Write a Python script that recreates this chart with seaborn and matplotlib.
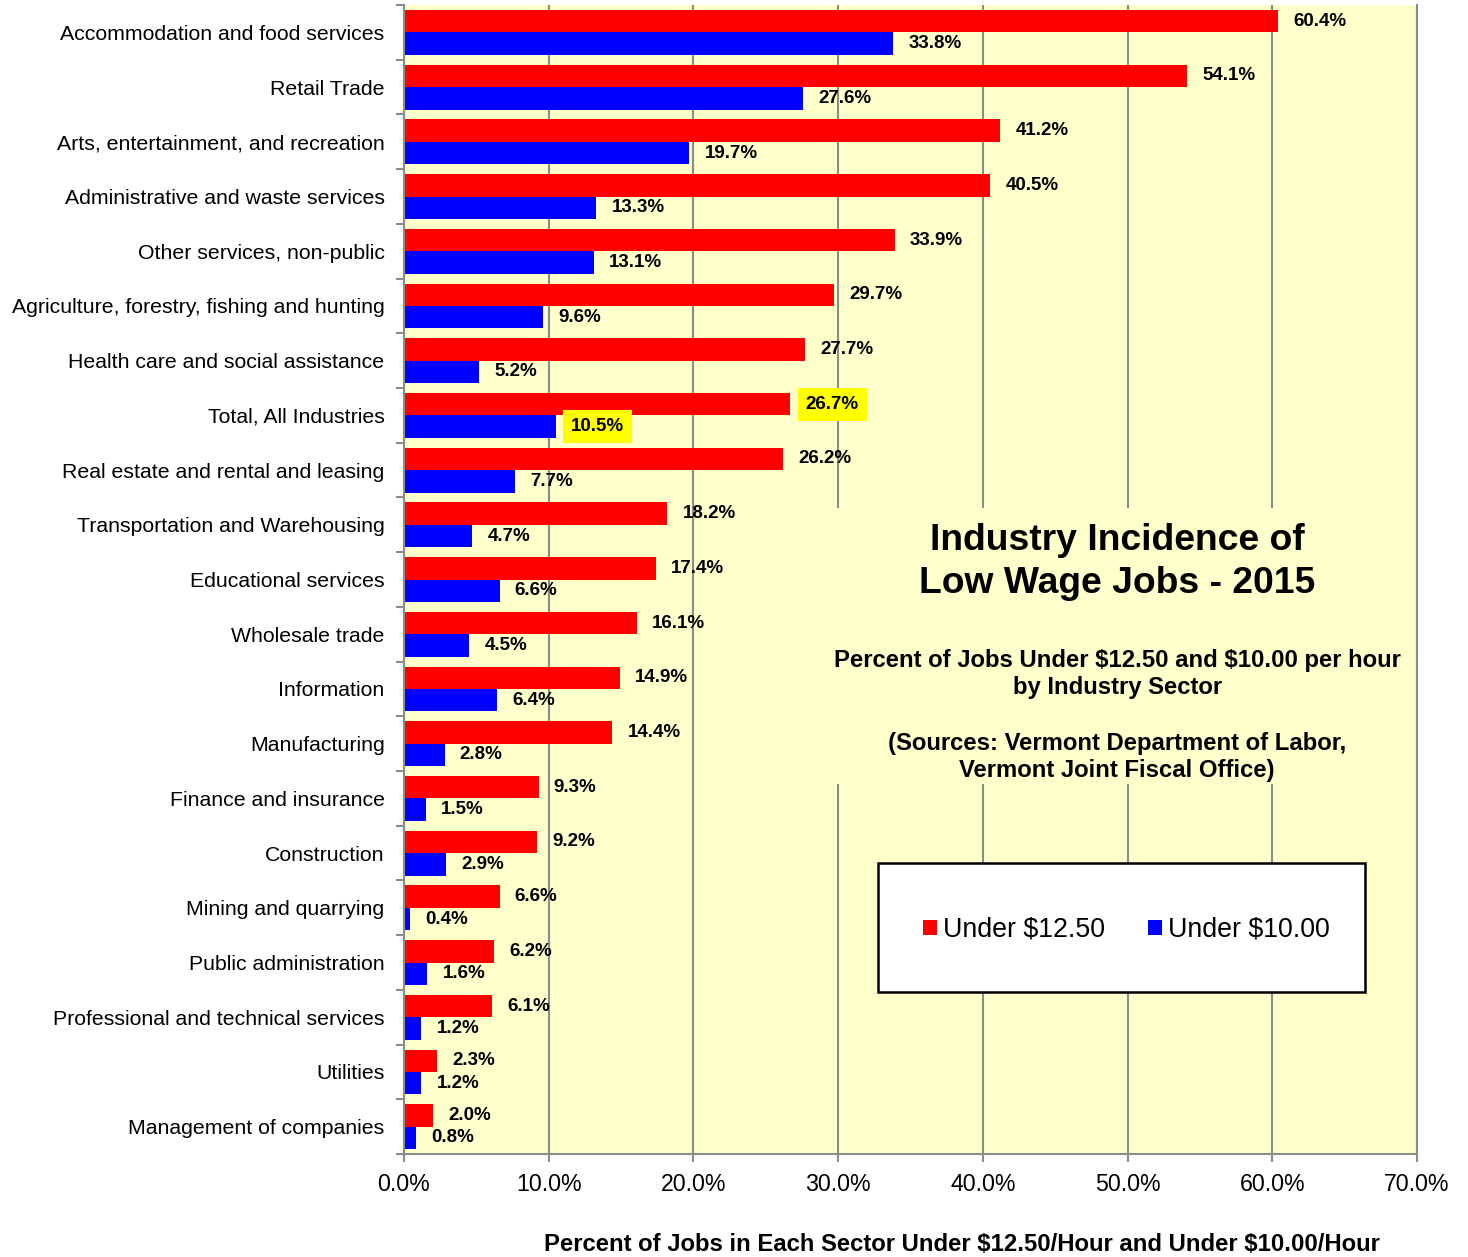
import numpy as np
import pandas as pd
import seaborn as sns
import matplotlib.pyplot as plt
from matplotlib.patches import Patch, Rectangle

# Data
sectors = ["Accommodation and food services", "Retail Trade", "Arts, entertainment, and recreation",
           "Administrative and waste services", "Other services, non-public",
           "Agriculture, forestry, fishing and hunting", "Health care and social assistance",
           "Total, All Industries", "Real estate and rental and leasing", "Transportation and Warehousing",
           "Educational services", "Wholesale trade", "Information", "Manufacturing", "Finance and insurance",
           "Construction", "Mining and quarrying", "Public administration", "Professional and technical services",
           "Utilities", "Management of companies"]
under_1250 = [60.4, 54.1, 41.2, 40.5, 33.9, 29.7, 27.7, 26.7, 26.2, 18.2, 17.4, 16.1, 14.9, 14.4, 9.3, 9.2,
              6.6, 6.2, 6.1, 2.3, 2.0]
under_1000 = [33.8, 27.6, 19.7, 13.3, 13.1, 9.6, 5.2, 10.5, 7.7, 4.7, 6.6, 4.5, 6.4, 2.8, 1.5, 2.9,
              0.4, 1.6, 1.2, 1.2, 0.8]
series = ["Under $12.50", "Under $10.00"]
x_ticks = [0, 10, 20, 30, 40, 50, 60, 70]

df = pd.concat([
    pd.DataFrame({"Sector": sectors, "Series": series[0], "Value": under_1250}),
    pd.DataFrame({"Sector": sectors, "Series": series[1], "Value": under_1000}),
])

# Style
sns.set_style("white")
plt.rcParams['font.family'] = ['Liberation Sans', 'DejaVu Sans']
plt.rcParams['text.parse_math'] = False
plt.rcParams['text.color'] = 'black'
plt.rcParams['xtick.labelcolor'] = 'black'
plt.rcParams['ytick.labelcolor'] = 'black'

bg = '#FFFFCC'
grid_c = '#8C8C8C'
palette = {series[0]: '#FF0000', series[1]: '#0000FF'}

fig = plt.figure(figsize=(14.68, 12.57), dpi=100)
ax = fig.add_axes([0.2752, 0.0819, 0.6901, 0.9141])
ax.set_facecolor(bg)

sns.barplot(data=df, x="Value", y="Sector", hue="Series", hue_order=series, order=sectors,
            palette=palette, orient='h', width=0.82, saturation=1.0, legend=False, ax=ax,
            edgecolor='none')

ax.set_xlim(0, 70)
ax.set_ylim(len(sectors) - 0.5, -0.5)
ax.set_xticks(x_ticks)
ax.set_xticklabels([f"{t:.1f}%" for t in x_ticks], fontsize=16.7)
ax.tick_params(axis='x', length=6, width=1.5, color=grid_c, pad=8, direction='out', bottom=True)

# Category ticks at boundaries
ax.set_yticks(np.arange(len(sectors)))
ax.set_yticklabels(sectors, fontsize=15.3)
ax.set_yticks(np.arange(-0.5, len(sectors), 1), minor=True)
ax.tick_params(axis='y', which='major', length=0, pad=14)
ax.tick_params(axis='y', which='minor', length=6, width=1.5, color=grid_c, left=True, direction='out')

ax.set_xlabel("")
ax.set_ylabel("")
ax.grid(axis='x', color=grid_c, linewidth=1.5)
ax.set_axisbelow(True)

for side in ['left', 'bottom', 'right']:
    ax.spines[side].set_color(grid_c)
    ax.spines[side].set_linewidth(1.5)
ax.spines['top'].set_visible(False)

# Value labels
highlight = sectors.index("Total, All Industries")
for cont in ax.containers:
    texts = ax.bar_label(cont, fmt="%.1f%%", padding=11, fontsize=13.5, fontweight='bold')
    texts[highlight].set_bbox(dict(facecolor='#FFFF00', edgecolor='none', boxstyle='square,pad=0.42'))

# Title block (hides gridlines behind it)
ax.add_patch(Rectangle((0.415, 0.322), 0.57, 0.24, transform=ax.transAxes, facecolor=bg,
                       edgecolor='none', zorder=3))
ax.text(0.704, 0.5155, "Industry Incidence of\nLow Wage Jobs - 2015", transform=ax.transAxes,
        ha='center', va='center', fontsize=26.8, fontweight='bold', linespacing=1.31, zorder=4)
ax.text(0.704, 0.4176, "Percent of Jobs Under $12.50 and $10.00 per hour\nby Industry Sector",
        transform=ax.transAxes, ha='center', va='center', fontsize=17.2, fontweight='bold',
        linespacing=1.22, zorder=4)
ax.text(0.704, 0.3456, "(Sources: Vermont Department of Labor,\nVermont Joint Fiscal Office)",
        transform=ax.transAxes, ha='center', va='center', fontsize=17.2, fontweight='bold',
        linespacing=1.22, zorder=4)

# Legend box
ax.add_patch(Rectangle((0.468, 0.1414), 0.4807, 0.1117, transform=ax.transAxes, facecolor='white',
                       edgecolor='black', linewidth=1.8, zorder=4))
handles = [Patch(facecolor=palette[s], edgecolor='none', label=s) for s in series]
leg = ax.legend(handles=handles, loc='center', bbox_to_anchor=(0.7135, 0.195), ncol=2, frameon=False,
                fontsize=19.3, handlelength=0.5, handleheight=0.5, handletextpad=0.25, columnspacing=1.6)
leg.set_zorder(5)

fig.text(0.655, 0.0103, "Percent of Jobs in Each Sector Under $12.50/Hour and Under $10.00/Hour",
         ha='center', va='center', fontsize=17.2, fontweight='bold')

plt.savefig("out.png", dpi=100)
plt.close()
